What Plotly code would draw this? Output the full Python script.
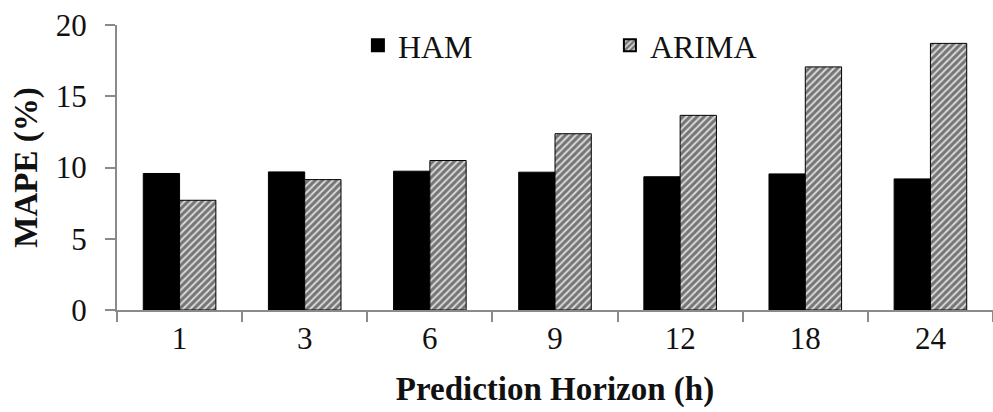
import plotly.graph_objects as go

# Forecast error by prediction horizon
horizons = ["1", "3", "6", "9", "12", "18", "24"]
ham_mape = [9.58, 9.69, 9.74, 9.67, 9.35, 9.55, 9.2]
arima_mape = [7.7, 9.15, 10.49, 12.37, 13.66, 17.06, 18.71]
y_ticks = [0, 5, 10, 15, 20]

serif = "Liberation Serif, Times New Roman, serif"
axis_grey = "#8a8a8a"
ink = "#111111"

fig = go.Figure()
fig.add_trace(go.Bar(
    x=horizons, y=ham_mape, name="HAM",
    marker=dict(color="black", line=dict(color="black", width=1)),
))
fig.add_trace(go.Bar(
    x=horizons, y=arima_mape, name="ARIMA",
    marker=dict(
        color="white",
        line=dict(color="black", width=1),
        pattern=dict(shape="/", fgcolor="#111111", bgcolor="#d9d9d9",
                     size=5, solidity=0.6),
    ),
))

fig.update_layout(
    width=993, height=412,
    margin=dict(l=117, r=0, t=25, b=102),
    paper_bgcolor="white", plot_bgcolor="white",
    barmode="group", bargap=0.42, bargroupgap=0,
    font=dict(family=serif, size=32, color=ink),
    showlegend=True,
    legend=dict(
        orientation="h", x=0.275, y=1.025, xanchor="left", yanchor="top",
        entrywidth=207, entrywidthmode="pixels",
        font=dict(family=serif, size=32, color=ink),
        bgcolor="rgba(0,0,0,0)", itemsizing="constant",
    ),
    xaxis=dict(
        type="category",
        showline=True, linecolor=axis_grey, linewidth=2,
        ticks="outside", tickson="boundaries", ticklen=10,
        tickcolor=axis_grey, tickwidth=1.5,
        showgrid=False,
        tickfont=dict(family=serif, size=31, color=ink),
        title=dict(text="<b>Prediction Horizon (h)</b>", standoff=22,
                   font=dict(family=serif, size=33, color=ink)),
    ),
    yaxis=dict(
        range=[0, 20], tickvals=y_ticks,
        showline=True, linecolor=axis_grey, linewidth=2,
        ticks="outside", ticklen=10, tickcolor=axis_grey, tickwidth=1.5,
        showgrid=False, zeroline=False,
        ticklabelstandoff=12,
        tickfont=dict(family=serif, size=31, color=ink),
        title=dict(text="<b>MAPE (%)</b>", standoff=8,
                   font=dict(family=serif, size=33, color=ink)),
    ),
)

fig.write_html("out.html")
